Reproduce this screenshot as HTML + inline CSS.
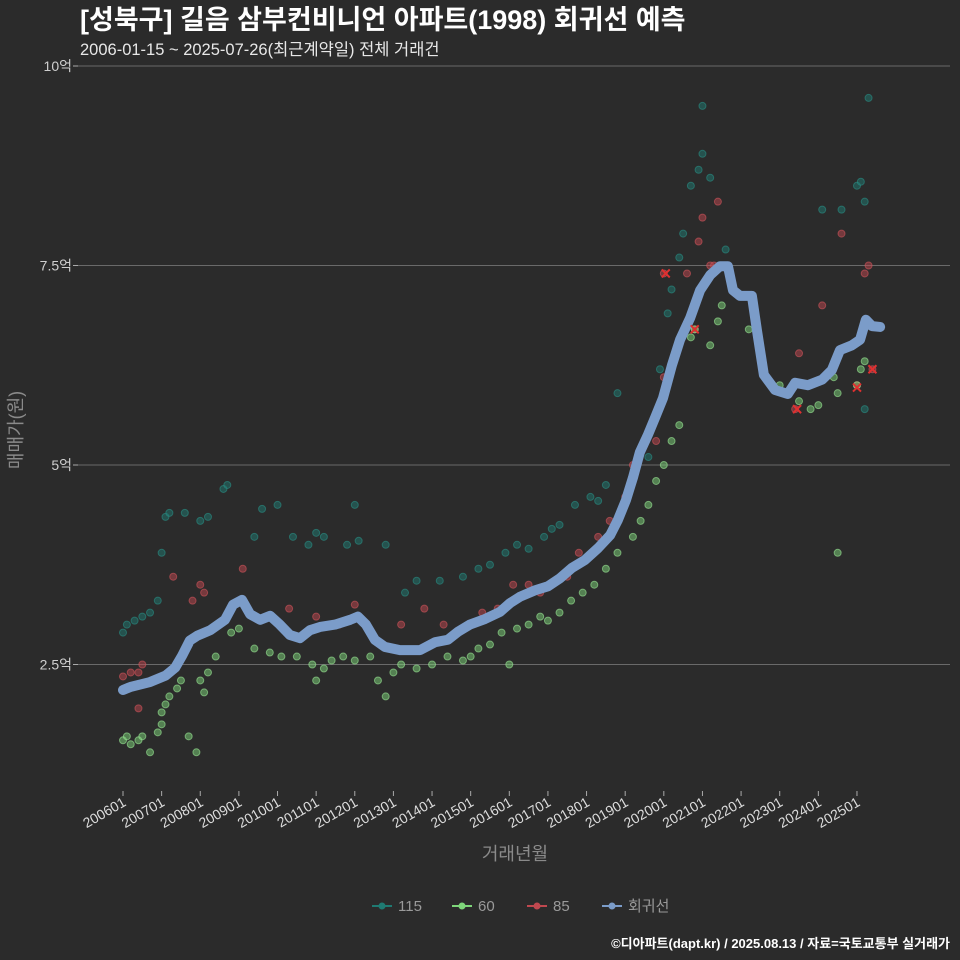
<!DOCTYPE html>
<html><head><meta charset="utf-8"><style>
html,body{margin:0;padding:0;background:#2b2b2b;}
svg{display:block;font-family:"Liberation Sans","Noto Sans CJK KR",sans-serif;}
</style></head><body>
<svg id="chart" width="960" height="960" viewBox="0 0 960 960" xmlns="http://www.w3.org/2000/svg">
<rect width="960" height="960" fill="#2b2b2b"/>
<text x="80" y="29" fill="#ffffff" font-size="27" font-weight="bold">[성북구] 길음 삼부컨비니언 아파트(1998) 회귀선 예측</text>
<text x="80" y="55" fill="#e8e8e8" font-size="16.5">2006-01-15 ~ 2025-07-26(최근계약일) 전체 거래건</text>
<g id="grid"></g>
<g id="yaxis"></g>
<g id="xaxis"></g>
<g id="points"></g>
<g id="reg"></g>
<g id="marks"></g>
<text x="0" y="0" transform="translate(22,430) rotate(-90)" text-anchor="middle" fill="#8a8a8a" font-size="18">매매가(원)</text>
<text x="515" y="860" text-anchor="middle" fill="#8a8a8a" font-size="18">거래년월</text>
<g id="legend"></g>
<text x="950" y="948" text-anchor="end" fill="#ffffff" font-size="13" font-weight="bold">©디아파트(dapt.kr) / 2025.08.13 / 자료=국토교통부 실거래가</text>
</svg>
<script>
const yTicks=[2.5,5,7.5,10];
const yTickLabels=["2.5억","5억","7.5억","10억"];
const xTickYears=[2006,2007,2008,2009,2010,2011,2012,2013,2014,2015,2016,2017,2018,2019,2020,2021,2022,2023,2024,2025];
const xTickLabels=["200601","200701","200801","200901","201001","201101","201201","201301","201401","201501","201601","201701","201801","201901","202001","202101","202201","202301","202401","202501"];
const regT=[2006.0,2006.2,2006.7,2007.1,2007.35,2007.53,2007.73,2007.92,2008.26,2008.64,2008.85,2009.08,2009.29,2009.55,2009.81,2010.06,2010.32,2010.58,2010.84,2011.1,2011.49,2011.88,2012.08,2012.29,2012.52,2012.78,2013.17,2013.69,2014.08,2014.41,2014.67,2014.98,2015.37,2015.76,2016.02,2016.28,2016.67,2017.0,2017.31,2017.62,2017.96,2018.3,2018.61,2018.81,2019.02,2019.2,2019.38,2019.59,2019.77,2019.98,2020.21,2020.42,2020.68,2020.94,2021.2,2021.45,2021.66,2021.79,2021.97,2022.28,2022.41,2022.59,2022.88,2023.21,2023.4,2023.73,2024.1,2024.35,2024.56,2024.87,2025.08,2025.23,2025.39,2025.6];
const regV=[2.18,2.22,2.28,2.36,2.46,2.61,2.8,2.86,2.93,3.06,3.25,3.31,3.13,3.06,3.11,3.0,2.87,2.83,2.93,2.97,3.0,3.06,3.1,3.0,2.81,2.72,2.68,2.68,2.78,2.81,2.91,3.0,3.07,3.16,3.27,3.35,3.43,3.48,3.58,3.71,3.81,3.96,4.12,4.31,4.56,4.84,5.16,5.38,5.59,5.84,6.25,6.57,6.84,7.19,7.38,7.49,7.49,7.19,7.12,7.12,6.69,6.13,5.94,5.89,6.03,6.0,6.07,6.19,6.44,6.5,6.57,6.82,6.74,6.73];
const s115T=[2006.0,2006.1,2006.3,2006.5,2006.7,2006.9,2007.0,2007.1,2007.2,2007.6,2008.0,2008.2,2008.6,2008.7,2009.4,2009.6,2010.0,2010.4,2010.8,2011.0,2011.2,2011.8,2012.0,2012.1,2012.8,2013.3,2013.6,2014.2,2014.8,2015.2,2015.5,2015.9,2016.2,2016.5,2016.9,2017.1,2017.3,2017.7,2018.1,2018.3,2018.5,2018.8,2019.6,2019.9,2020.1,2020.2,2020.4,2020.5,2020.7,2020.9,2021.0,2021.0,2021.2,2021.6,2024.1,2024.6,2025.0,2025.1,2025.2,2025.3,2025.2];
const s115V=[2.9,3.0,3.05,3.1,3.15,3.3,3.9,4.35,4.4,4.4,4.3,4.35,4.7,4.75,4.1,4.45,4.5,4.1,4.0,4.15,4.1,4.0,4.5,4.05,4.0,3.4,3.55,3.55,3.6,3.7,3.75,3.9,4.0,3.95,4.1,4.2,4.25,4.5,4.6,4.55,4.75,5.9,5.1,6.2,6.9,7.2,7.6,7.9,8.5,8.7,8.9,9.5,8.6,7.7,8.2,8.2,8.5,8.55,8.3,9.6,5.7];
const s60T=[2006.0,2006.1,2006.2,2006.4,2006.5,2006.7,2006.9,2007.0,2007.0,2007.1,2007.2,2007.4,2007.5,2007.7,2007.9,2008.0,2008.1,2008.2,2008.4,2008.8,2009.0,2009.4,2009.8,2010.1,2010.5,2010.9,2011.0,2011.2,2011.4,2011.7,2012.0,2012.4,2012.6,2012.8,2013.0,2013.2,2013.6,2014.0,2014.4,2014.8,2015.0,2015.2,2015.5,2015.8,2016.0,2016.2,2016.5,2016.8,2017.0,2017.3,2017.6,2017.9,2018.2,2018.5,2018.8,2019.2,2019.4,2019.6,2019.8,2020.0,2020.2,2020.4,2020.7,2020.8,2021.2,2021.4,2021.5,2022.2,2023.0,2023.5,2023.8,2024.0,2024.4,2024.5,2024.5,2025.0,2025.1,2025.2];
const s60V=[1.55,1.6,1.5,1.55,1.6,1.4,1.65,1.75,1.9,2.0,2.1,2.2,2.3,1.6,1.4,2.3,2.15,2.4,2.6,2.9,2.95,2.7,2.65,2.6,2.6,2.5,2.3,2.45,2.55,2.6,2.55,2.6,2.3,2.1,2.4,2.5,2.45,2.5,2.6,2.55,2.6,2.7,2.75,2.9,2.5,2.95,3.0,3.1,3.05,3.15,3.3,3.4,3.5,3.7,3.9,4.1,4.3,4.5,4.8,5.0,5.3,5.5,6.6,6.7,6.5,6.8,7.0,6.7,6.0,5.8,5.7,5.75,6.1,3.9,5.9,6.0,6.2,6.3];
const s85T=[2006.0,2006.2,2006.5,2006.4,2006.4,2007.3,2007.8,2008.0,2008.1,2009.1,2010.3,2011.0,2011.6,2012.0,2013.2,2013.8,2014.3,2015.3,2015.7,2016.1,2016.5,2016.8,2017.5,2017.8,2018.3,2018.6,2019.0,2019.2,2019.8,2020.0,2020.0,2020.6,2020.8,2020.9,2021.0,2021.2,2021.4,2021.3,2023.4,2023.5,2024.1,2024.6,2025.0,2025.2,2025.3,2025.4];
const s85V=[2.35,2.4,2.5,1.95,2.4,3.6,3.3,3.5,3.4,3.7,3.2,3.1,3.0,3.25,3.0,3.2,3.0,3.15,3.2,3.5,3.5,3.4,3.6,3.9,4.1,4.3,4.6,5.0,5.3,6.1,7.4,7.4,6.7,7.8,8.1,7.5,8.3,7.5,5.7,6.4,7.0,7.9,6.0,7.4,7.5,6.2];
const markT=[2020.05,2020.8,2023.45,2025.0,2025.4];
const markV=[7.4,6.7,5.7,5.97,6.2];

const NS="http://www.w3.org/2000/svg";
function X(t){return 123+(t-2006)*38.63;}
function Y(v){return 465-(v-5)*79.8;}
function el(tag,attrs,parent){const e=document.createElementNS(NS,tag);for(const k in attrs)e.setAttribute(k,attrs[k]);parent.appendChild(e);return e;}
const grid=document.getElementById('grid'),yaxis=document.getElementById('yaxis'),xaxis=document.getElementById('xaxis');
yTicks.forEach((v,i)=>{
  const l=el('line',{x1:78,x2:950,y1:Y(v),y2:Y(v),stroke:'#6a6a6a','stroke-width':1},grid);
  
  
  const tk=el('line',{x1:73,x2:78,y1:Y(v),y2:Y(v),stroke:'#aaa'},yaxis);
  
  
  const t=el('text',{x:72,y:Y(v)+5,'text-anchor':'end',fill:'#cfcfcf','font-size':14},yaxis);
  t.textContent=yTickLabels[i];
  
  
});
xTickYears.forEach((yr,i)=>{
  const x=X(yr);
  const tk=el('line',{x1:x,x2:x,y1:791,y2:796,stroke:'#aaa'},xaxis);
  
  
  const t=el('text',{x:0,y:0,'text-anchor':'end',fill:'#dcdcdc','font-size':14,transform:`translate(${x+4},${805}) rotate(-30)`},xaxis);
  t.textContent=xTickLabels[i];
  
  
});
const pts=document.getElementById('points');
function series(T,V,fill,stroke,name){
  T.forEach((t,i)=>{
    const c=el('circle',{cx:X(t),cy:Y(V[i]),r:3.5,fill:fill,'fill-opacity':0.5,stroke:stroke,'stroke-opacity':0.6,'stroke-width':1},pts);
    
    
  });
}
series(s115T,s115V,'#1f7a72','#2a8f86','point-115');
series(s85T,s85V,'#c0484f','#d0555c','point-85');
series(s60T,s60V,'#7ed67a','#9be896','point-60');
const reg=document.getElementById('reg');
const p=el('polyline',{points:regT.map((t,i)=>X(t)+','+Y(regV[i])).join(' '),fill:'none',stroke:'#7b9cc9','stroke-width':10,'stroke-linejoin':'round','stroke-linecap':'round'},reg);


const marks=document.getElementById('marks');
markT.forEach((t,i)=>{
  const x=X(t),y=Y(markV[i]);
  const g=el('path',{d:`M${x-4},${y-4}L${x+4},${y+4}M${x-4},${y+4}L${x+4},${y-4}`,stroke:'#e03030','stroke-width':2},marks);
  
  
});
const legend=document.getElementById('legend');
const legNames=["115","60","85","회귀선"];
const legColors=["#1f7a72","#7ed67a","#c0484f","#7b9cc9"];
const legX=[372,452,527,602];
legNames.forEach((n,i)=>{
  const g=el('g',{},legend);
  
  
  el('line',{x1:legX[i],x2:legX[i]+20,y1:906,y2:906,stroke:legColors[i],'stroke-width':2},g);
  el('circle',{cx:legX[i]+10,cy:906,r:3.5,fill:legColors[i]},g);
  const t=el('text',{x:legX[i]+26,y:911,fill:'#9a9a9a','font-size':15},g);
  t.textContent=n;
});
</script>
</body></html>
